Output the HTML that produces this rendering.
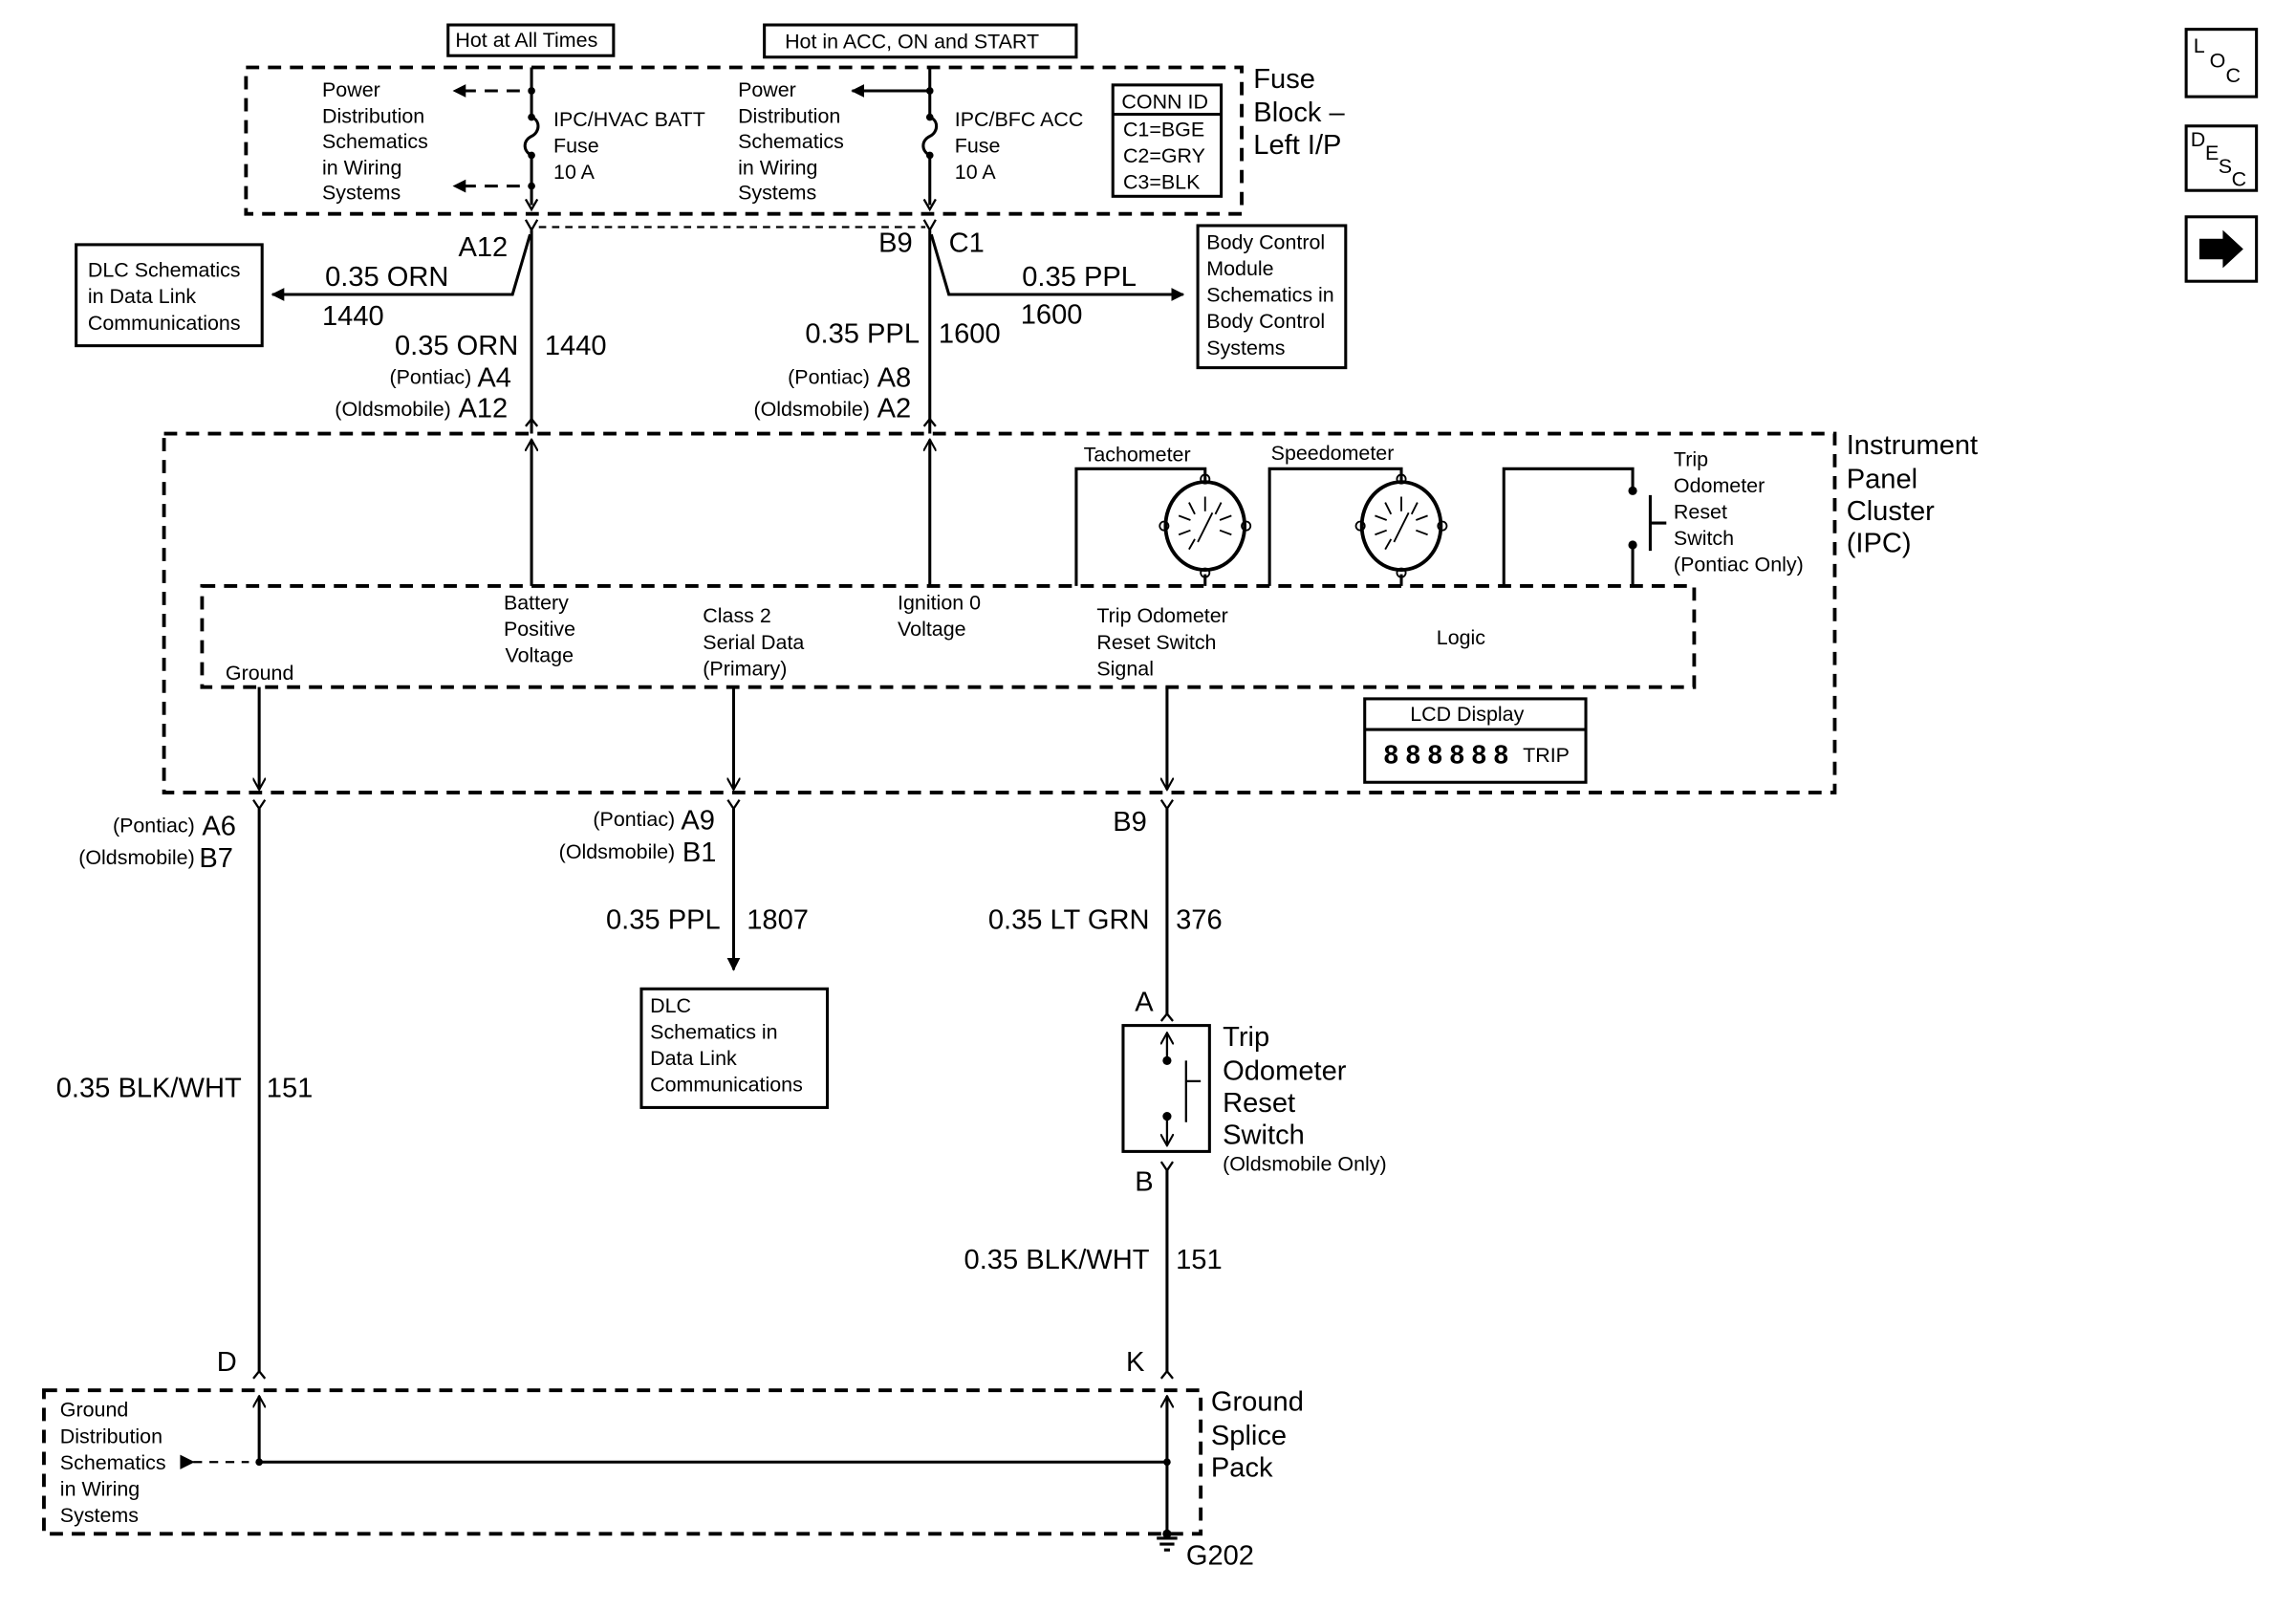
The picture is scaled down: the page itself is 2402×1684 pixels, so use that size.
<!DOCTYPE html>
<html><head><meta charset="utf-8"><style>
html,body{margin:0;padding:0;background:#fff;}
svg{display:block;}
text{font-family:"Liberation Sans",Arial,sans-serif;fill:#000;}
.s{font-size:14px}.m{font-size:19px}.l{font-size:19.5px}
</style></head><body>
<svg width="2402" height="1684" viewBox="0 0 1568 1099" preserveAspectRatio="none" xmlns="http://www.w3.org/2000/svg">
<defs>
<marker id="ah" viewBox="0 0 10 10" refX="9" refY="5" markerWidth="9" markerHeight="9" orient="auto" markerUnits="userSpaceOnUse"><path d="M0,0 L10,5 L0,10 z" fill="#000"/></marker>
<marker id="ao" viewBox="0 0 10 10" refX="9" refY="5" markerWidth="9" markerHeight="9" orient="auto" markerUnits="userSpaceOnUse"><path d="M0,0 L9,5 L0,10" fill="none" stroke="#000" stroke-width="1.5"/></marker>
</defs>
<g fill="none" stroke="#000" stroke-width="2">
<rect x="306" y="17" width="113" height="21"/>
<rect x="522" y="17" width="213" height="22"/>
<rect x="168" y="46" width="680" height="100" stroke-width="2.5" stroke-dasharray="9,6"/>
<path d="M363 46 V80 M363 106 V140" />
<path d="M363 80 c6 2 6 10 0 13 c-6 3 -6 10 0 13"/>
<path d="M635 46 V80 M635 106 V140" />
<path d="M635 80 c6 2 6 10 0 13 c-6 3 -6 10 0 13"/>
<path d="M359 136 L363 143 L367 136 M631 136 L635 143 L639 136" stroke-width="1.5"/>
<path d="M355 62 H310" stroke-dasharray="9,6" marker-end="url(#ah)"/>
<path d="M355 127 H310" stroke-dasharray="9,6" marker-end="url(#ah)"/>
<path d="M635 62 H582" marker-end="url(#ah)"/>
<rect x="760" y="58" width="74" height="76"/>
<path d="M760 78 H834"/>
<path d="M368 155 H632" stroke-dasharray="5,4" stroke-width="1.5"/>
<path d="M359 150 L363 157 L367 150 M631 150 L635 157 L639 150" stroke-width="1.5"/>
<path d="M363 157 V296 M635 157 V296"/>
<path d="M362 160 L350 201 H186" marker-end="url(#ah)"/>
<path d="M636 160 L648 201 H808" marker-end="url(#ah)"/>
<rect x="52" y="167" width="127" height="69"/>
<rect x="818" y="154" width="101" height="97"/>
<path d="M359 291 L363 286 L367 291 M631 291 L635 286 L639 291" stroke-width="1.5"/>
<rect x="112" y="296" width="1141" height="245" stroke-width="2.5" stroke-dasharray="9,6"/>
<rect x="138" y="400" width="1019" height="69" stroke-width="2.5" stroke-dasharray="9,6"/>
<path d="M363 400 V300" marker-end="url(#ao)"/>
<path d="M635 400 V300" marker-end="url(#ao)"/>
<path d="M735 400 V320 H823 V328"/>
<path d="M867 400 V320 H957 V328"/>
<path d="M823 392 V400 M957 392 V400"/>
<ellipse cx="823" cy="359" rx="27" ry="30" stroke-width="2.5"/>
<ellipse cx="957" cy="359" rx="27" ry="30" stroke-width="2.5"/>
<g stroke-width="1.2">
<circle cx="823" cy="327" r="3"/><circle cx="823" cy="391" r="3"/><circle cx="795" cy="359" r="3"/><circle cx="851" cy="359" r="3"/>
<circle cx="957" cy="327" r="3"/><circle cx="957" cy="391" r="3"/><circle cx="929" cy="359" r="3"/><circle cx="985" cy="359" r="3"/>
<path d="M823 339 V349 M812 343 L816 351 M834 343 L830 351 M805 352 L813 355 M841 352 L833 355 M805 365 L813 362 M841 365 L833 362 M812 375 L816 368 M818 370 L828 350"/>
<path d="M957 339 V349 M946 343 L950 351 M968 343 L964 351 M939 352 L947 355 M975 352 L967 355 M939 365 L947 362 M975 365 L967 362 M946 375 L950 368 M952 370 L962 350"/>
</g>
<path d="M1027 400 V320 H1115 V335 M1115 372 V400"/>
<path d="M1127 338 V376 M1127 357 H1138"/>
<rect x="932" y="477" width="151" height="57"/>
<path d="M932 498 H1083"/>
<path d="M177 469 V539" marker-end="url(#ao)"/>
<path d="M501 469 V539" marker-end="url(#ao)"/>
<path d="M797 469 V539" marker-end="url(#ao)"/>
<path d="M173 546 L177 552 L181 546 M497 546 L501 552 L505 546 M793 546 L797 552 L801 546" stroke-width="1.5"/>
<path d="M177 552 V936"/>
<path d="M501 552 V662" marker-end="url(#ah)"/>
<rect x="438" y="675" width="127" height="81"/>
<path d="M797 552 V692"/>
<path d="M793 697 L797 692 L801 697" stroke-width="1.5"/>
<rect x="767" y="700" width="59" height="86"/>
<path d="M797 724 V705" marker-end="url(#ao)" stroke-width="1.5"/>
<path d="M797 762 V782" marker-end="url(#ao)" stroke-width="1.5"/>
<path d="M810 724 V766 M810 738 H820" stroke-width="1.5"/>
<path d="M793 793 L797 799 L801 793" stroke-width="1.5"/>
<path d="M797 799 V936"/>
<path d="M173 941 L177 936 L181 941 M793 941 L797 936 L801 941" stroke-width="1.5"/>
<rect x="30" y="949" width="790" height="98" stroke-width="2.5" stroke-dasharray="9,6"/>
<path d="M177 998 V953" marker-end="url(#ao)"/>
<path d="M797 1045 V953" marker-end="url(#ao)"/>
<path d="M177 998 H797"/>
<path d="M132 998 H170" stroke-dasharray="6,5" stroke-width="1.5"/>
<path d="M790 1050 H804 M792 1054 H802 M795 1058 H799"/>
<rect x="1493" y="20" width="48" height="46"/>
<rect x="1493" y="86" width="48" height="44"/>
<rect x="1493" y="148" width="48" height="44"/>
</g>
<g fill="#000">
<path d="M123 993 L133 998 L123 1003 z"/>
<circle cx="363" cy="62" r="2.5"/><circle cx="363" cy="127" r="2.5"/><circle cx="363" cy="80" r="2.5"/><circle cx="363" cy="106" r="2.5"/>
<circle cx="635" cy="62" r="2.5"/><circle cx="635" cy="80" r="2.5"/><circle cx="635" cy="106" r="2.5"/>
<circle cx="1115" cy="335" r="3"/><circle cx="1115" cy="372" r="3"/>
<circle cx="797" cy="724" r="3"/><circle cx="797" cy="762" r="3"/>
<circle cx="177" cy="998" r="2.5"/><circle cx="797" cy="998" r="2.5"/>
<circle cx="797" cy="1047" r="3"/>
<path d="M1502 163 H1518 V157 L1532 170 L1518 183 V177 H1502 z"/>
</g>
<text class="s" x="311" y="32">Hot at All Times</text>
<text class="s" x="536" y="33">Hot in ACC, ON and START</text>
<g class="s">
<text x="220" y="66">Power</text><text x="220" y="84">Distribution</text><text x="220" y="101">Schematics</text><text x="220" y="119">in Wiring</text><text x="220" y="136">Systems</text>
<text x="504" y="66">Power</text><text x="504" y="84">Distribution</text><text x="504" y="101">Schematics</text><text x="504" y="119">in Wiring</text><text x="504" y="136">Systems</text>
<text x="378" y="86">IPC/HVAC BATT</text><text x="378" y="104">Fuse</text><text x="378" y="122">10 A</text>
<text x="652" y="86">IPC/BFC ACC</text><text x="652" y="104">Fuse</text><text x="652" y="122">10 A</text>
<text x="766" y="74">CONN ID</text><text x="767" y="93">C1=BGE</text><text x="767" y="111">C2=GRY</text><text x="767" y="129">C3=BLK</text>
<text x="60" y="189">DLC Schematics</text><text x="60" y="207">in Data Link</text><text x="60" y="225">Communications</text>
<text x="824" y="170">Body Control</text><text x="824" y="188">Module</text><text x="824" y="206">Schematics in</text><text x="824" y="224">Body Control</text><text x="824" y="242">Systems</text>
<text x="740" y="315">Tachometer</text><text x="868" y="314">Speedometer</text>
<text x="1143" y="318">Trip</text><text x="1143" y="336">Odometer</text><text x="1143" y="354">Reset</text><text x="1143" y="372">Switch</text><text x="1143" y="390">(Pontiac Only)</text>
<text x="154" y="464">Ground</text>
<text x="344" y="416">Battery</text><text x="344" y="434">Positive</text><text x="345" y="452">Voltage</text>
<text x="480" y="425">Class 2</text><text x="480" y="443">Serial Data</text><text x="480" y="461">(Primary)</text>
<text x="613" y="416">Ignition 0</text><text x="613" y="434">Voltage</text>
<text x="749" y="425">Trip Odometer</text><text x="749" y="443">Reset Switch</text><text x="749" y="461">Signal</text>
<text x="981" y="440">Logic</text>
<text x="963" y="492">LCD Display</text>
<text x="444" y="691">DLC</text><text x="444" y="709">Schematics in</text><text x="444" y="727">Data Link</text><text x="444" y="745">Communications</text>
<text x="41" y="967">Ground</text><text x="41" y="985">Distribution</text><text x="41" y="1003">Schematics</text><text x="41" y="1021">in Wiring</text><text x="41" y="1039">Systems</text>
<text x="835" y="799">(Oldsmobile Only)</text>
</g>
<text x="945" y="521" style="font-size:18px;font-weight:bold;letter-spacing:5px">888888</text>
<text x="1040" y="520" class="s">TRIP</text>
<g class="m">
<text x="856" y="60">Fuse</text><text x="856" y="83">Block –</text><text x="856" y="105">Left I/P</text>
<text x="1261" y="310">Instrument</text><text x="1261" y="333">Panel</text><text x="1261" y="355">Cluster</text><text x="1261" y="377">(IPC)</text>
<text x="835" y="714">Trip</text><text x="835" y="737">Odometer</text><text x="835" y="759">Reset</text><text x="835" y="781">Switch</text>
<text x="827" y="963">Ground</text><text x="827" y="986">Splice</text><text x="827" y="1008">Pack</text>
<text x="313" y="175">A12</text><text x="600" y="172">B9</text><text x="648" y="172">C1</text>
<text x="222" y="195">0.35 ORN</text><text x="220" y="222">1440</text>
<text x="698" y="195">0.35 PPL</text><text x="697" y="221">1600</text>
<text x="354" y="242" text-anchor="end">0.35 ORN</text><text x="372" y="242">1440</text>
<text x="628" y="234" text-anchor="end">0.35 PPL</text><text x="641" y="234">1600</text>
<text x="492" y="634" text-anchor="end">0.35 PPL</text><text x="510" y="634">1807</text>
<text x="785" y="634" text-anchor="end">0.35 LT GRN</text><text x="803" y="634">376</text>
<text x="165" y="749" text-anchor="end">0.35 BLK/WHT</text><text x="182" y="749">151</text>
<text x="785" y="866" text-anchor="end">0.35 BLK/WHT</text><text x="803" y="866">151</text>
<text x="775" y="690">A</text><text x="775" y="813">B</text>
<text x="148" y="936">D</text><text x="769" y="936">K</text>
<text x="810" y="1068">G202</text>
<text x="760" y="567">B9</text>
</g>
<g class="s">
<text x="322" y="262" text-anchor="end">(Pontiac)</text><text x="326" y="264" class="m">A4</text>
<text x="308" y="284" text-anchor="end">(Oldsmobile)</text><text x="313" y="285" class="m">A12</text>
<text x="594" y="262" text-anchor="end">(Pontiac)</text><text x="599" y="264" class="m">A8</text>
<text x="594" y="284" text-anchor="end">(Oldsmobile)</text><text x="599" y="285" class="m">A2</text>
<text x="133" y="568" text-anchor="end">(Pontiac)</text><text x="138" y="570" class="m">A6</text>
<text x="133" y="590" text-anchor="end">(Oldsmobile)</text><text x="136" y="592" class="m">B7</text>
<text x="461" y="564" text-anchor="end">(Pontiac)</text><text x="465" y="566" class="m">A9</text>
<text x="461" y="586" text-anchor="end">(Oldsmobile)</text><text x="466" y="588" class="m">B1</text>
</g>
<text x="1498" y="36" class="s">L</text><text x="1509" y="46" class="s">O</text><text x="1520" y="56" class="s">C</text>
<text x="1496" y="100" class="s">D</text><text x="1506" y="109" class="s">E</text><text x="1515" y="118" class="s">S</text><text x="1524" y="127" class="s">C</text>
</svg>
</body></html>
